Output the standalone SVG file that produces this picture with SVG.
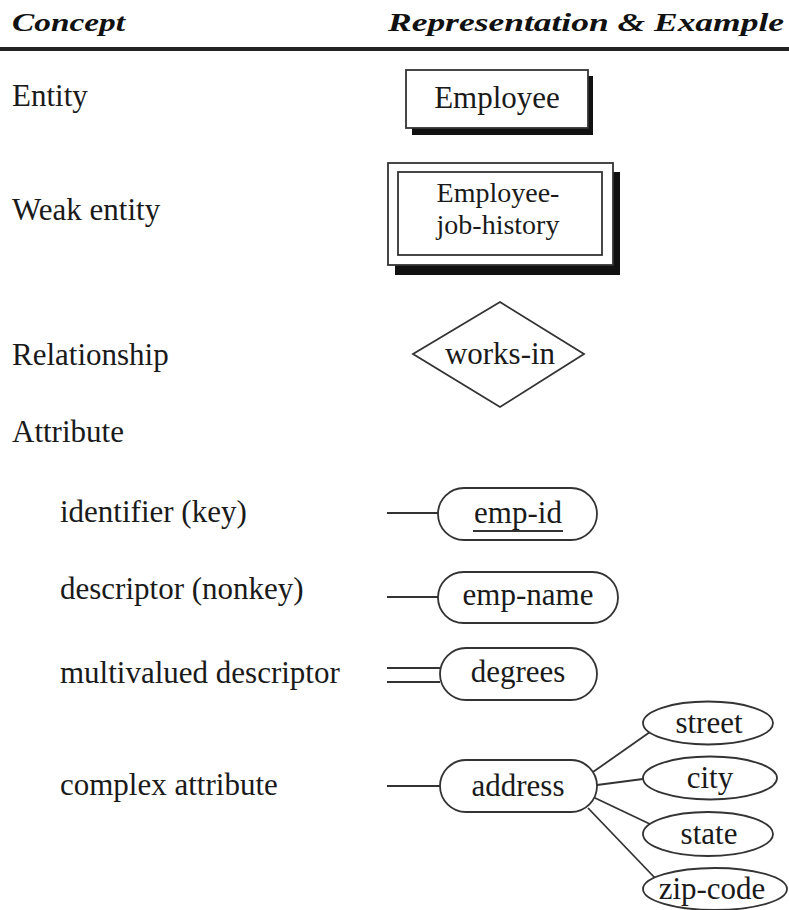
<svg xmlns="http://www.w3.org/2000/svg" width="789" height="910" viewBox="0 0 789 910">
<style>
.t{font-family:"Liberation Serif","Times New Roman",serif;font-size:31px;fill:#1a1a1a}
.w{font-size:28px}
.h{font-family:"Liberation Serif","Times New Roman",serif;font-size:26px;font-weight:bold;font-style:italic;fill:#111}
.m{text-anchor:middle}
.s{fill:#fff;stroke:#333;stroke-width:1.8}
.l{stroke:#333;stroke-width:1.8;fill:none}
</style>
<rect width="789" height="910" fill="#fff"/>
<g id="header">
<text class="h" x="12" y="31" textLength="113" lengthAdjust="spacingAndGlyphs">Concept</text>
<text class="h" x="388" y="31" textLength="396" lengthAdjust="spacingAndGlyphs">Representation &amp; Example</text>
<rect x="0" y="47" width="789" height="4" fill="#222"/>
</g>
<g id="labels">
<text class="t" x="12" y="106">Entity</text>
<text class="t" x="12" y="220">Weak entity</text>
<text class="t" x="12" y="365">Relationship</text>
<text class="t" x="12" y="442">Attribute</text>
<text class="t" x="60" y="522">identifier (key)</text>
<text class="t" x="60" y="599">descriptor (nonkey)</text>
<text class="t" x="60" y="683">multivalued descriptor</text>
<text class="t" x="60" y="795">complex attribute</text>
</g>
<g id="entity">
<rect x="412" y="76" width="181" height="59" fill="#111"/>
<rect class="s" x="406" y="70" width="182" height="58"/>
<text class="t m" x="497" y="108">Employee</text>
</g>
<g id="weak-entity">
<rect x="395" y="172" width="225" height="103" fill="#111"/>
<rect class="s" x="388" y="163" width="225" height="102"/>
<rect class="s" x="398" y="172" width="204" height="83"/>
<text class="t w m" x="498" y="202">Employee-</text>
<text class="t w m" x="498" y="234">job-history</text>
</g>
<g id="relationship">
<polygon class="s" points="500,302 584,354 500,407 413,354"/>
<text class="t m" x="500" y="364">works-in</text>
</g>
<g id="connectors">
<line class="l" x1="387" y1="513" x2="438" y2="513"/>
<line class="l" x1="387" y1="597" x2="438" y2="597"/>
<line class="l" x1="387" y1="668" x2="440" y2="668"/>
<line class="l" x1="387" y1="682" x2="440" y2="682"/>
<line class="l" x1="387" y1="786" x2="440" y2="786"/>
<line class="l" x1="593" y1="772" x2="650" y2="732"/>
<line class="l" x1="597" y1="785" x2="643" y2="779"/>
<line class="l" x1="593" y1="797" x2="652" y2="825"/>
<line class="l" x1="588" y1="808" x2="655" y2="878"/>
</g>
<g id="emp-id">
<rect class="s" x="438" y="488" width="159" height="52" rx="26"/>
<text class="t m" x="518" y="523">emp-id</text>
<line class="l" x1="473" y1="531" x2="563" y2="531"/>
</g>
<g id="emp-name">
<rect class="s" x="438" y="572" width="180" height="51" rx="25.5"/>
<text class="t m" x="528" y="605">emp-name</text>
</g>
<g id="degrees">
<rect class="s" x="440" y="648" width="157" height="52" rx="26"/>
<text class="t m" x="518" y="682">degrees</text>
</g>
<g id="address">
<rect class="s" x="440" y="760" width="157" height="52" rx="26"/>
<text class="t m" x="518" y="796">address</text>
</g>
<g id="street">
<ellipse class="s" cx="708" cy="723" rx="65" ry="21.5"/>
<text class="t m" x="709" y="733">street</text>
</g>
<g id="city">
<ellipse class="s" cx="710" cy="778" rx="67" ry="21.5"/>
<text class="t m" x="710" y="788">city</text>
</g>
<g id="state">
<ellipse class="s" cx="708" cy="834" rx="65" ry="22"/>
<text class="t m" x="709" y="844">state</text>
</g>
<g id="zip-code">
<ellipse class="s" cx="715" cy="889" rx="72" ry="21"/>
<text class="t m" x="712" y="899">zip-code</text>
</g>
</svg>
